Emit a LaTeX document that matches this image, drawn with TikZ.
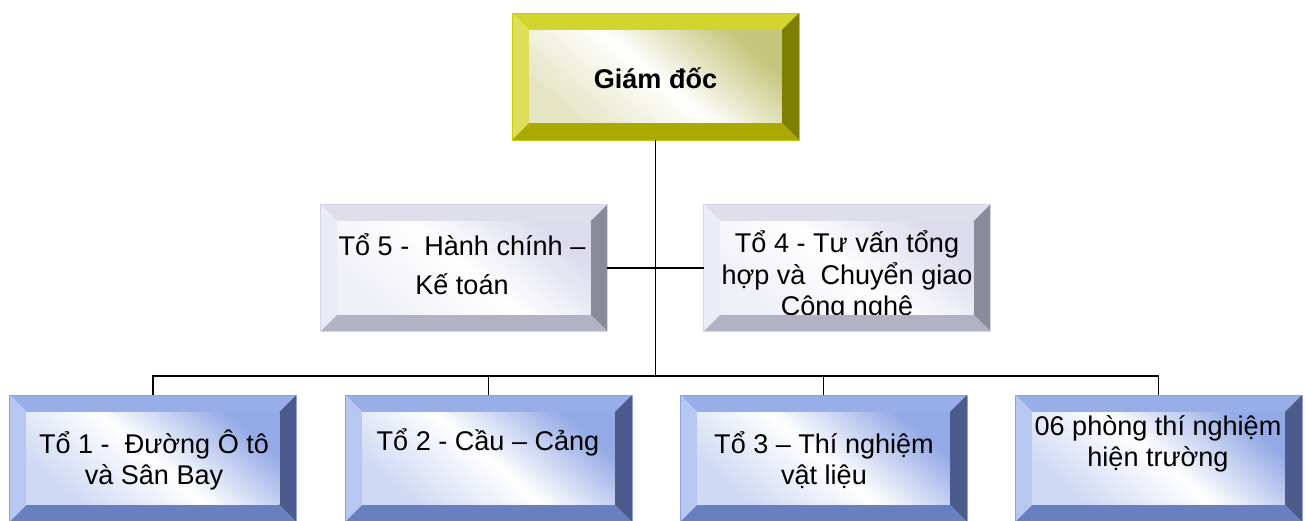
\documentclass[tikz,border=0pt]{standalone}
\usepackage{fontspec}
\setmainfont{Liberation Sans}
\usepackage{tikz}

\definecolor{goldT}{HTML}{D4D42E}
\definecolor{goldL}{HTML}{DEDE5C}
\definecolor{goldR}{HTML}{7E7E00}
\definecolor{goldB}{HTML}{A9A900}
\definecolor{goldF}{HTML}{C6C67E}
\definecolor{goldE}{HTML}{CACA10}
\definecolor{greyT}{HTML}{DFDFEC}
\definecolor{greyL}{HTML}{EBEBF5}
\definecolor{greyR}{HTML}{8A8A9A}
\definecolor{greyB}{HTML}{B2B2C5}
\definecolor{greyF}{HTML}{DCDCEE}
\definecolor{greyE}{HTML}{D6D6E4}
\definecolor{blueT}{HTML}{98AEE8}
\definecolor{blueL}{HTML}{B6C7F2}
\definecolor{blueR}{HTML}{4B5B8C}
\definecolor{blueB}{HTML}{6A7FBF}
\definecolor{blueF}{HTML}{94AAE6}
\definecolor{blueE}{HTML}{8CA2E0}

\def\bw{0.34cm}
\tikzset{
    bevel/.style={
        shape=rectangle, draw=#1E, line width=0.5pt, inner sep=0pt, outer sep=0pt,
        minimum width=5.74cm, minimum height=2.54cm,
        path picture={
            \coordinate (nw) at (path picture bounding box.north west);
            \coordinate (ne) at (path picture bounding box.north east);
            \coordinate (sw) at (path picture bounding box.south west);
            \coordinate (se) at (path picture bounding box.south east);
            \fill[#1T] (nw) -- (ne) -- ([xshift=-\bw,yshift=-\bw]ne) -- ([xshift=\bw,yshift=-\bw]nw) -- cycle;
            \fill[#1L] (nw) -- (sw) -- ([xshift=\bw,yshift=\bw]sw) -- ([xshift=\bw,yshift=-\bw]nw) -- cycle;
            \fill[#1R] (ne) -- (se) -- ([xshift=-\bw,yshift=\bw]se) -- ([xshift=-\bw,yshift=-\bw]ne) -- cycle;
            \fill[#1B] (sw) -- (se) -- ([xshift=-\bw,yshift=\bw]se) -- ([xshift=\bw,yshift=\bw]sw) -- cycle;
            \shade[top color=#1F, bottom color=#1F!45!white, middle color=white, shading angle=-40]
                ([xshift=\bw,yshift=\bw]sw) rectangle ([xshift=-\bw,yshift=-\bw]ne);
        }
    },
    txt/.style={align=center, font=\fontsize{15.4}{18}\selectfont, inner sep=0pt}
}

\begin{document}
\begin{tikzpicture}[x=0.02cm, y=-0.02cm, line width=1.1pt]
    \useasboundingbox (0,0) rectangle (1306,521);

    \node[bevel=gold] (gd) at (655.5,76.5) {};
    \node[bevel=grey] (t5) at (464,268) {};
    \node[bevel=grey] (t4) at (847,268) {};
    \node[bevel=blue] (t1) at (153,458.5) {};
    \node[bevel=blue] (t2) at (488.5,458.5) {};
    \node[bevel=blue] (t3) at (823.5,458.5) {};
    \node[bevel=blue] (t6) at (1158.5,458.5) {};

    \node[txt, font=\bfseries\fontsize{15.4}{18}\selectfont] (gdl) at (655.5,78) {Giám đốc};
    \node[txt, font=\fontsize{15.4}{22.5}\selectfont] (t5l) at (462,264) {Tổ 5 - ~Hành chính –\\Kế toán};
    \begin{scope}
        \clip ([xshift=\bw,yshift=\bw]t4.south west) rectangle ([xshift=-\bw,yshift=-\bw]t4.north east);
        \node[txt] (t4l) at (847,276) {Tổ 4 - Tư vấn tổng\\hợp và ~Chuyển giao\\Công nghệ};
    \end{scope}
    \node[txt] (t1l) at (154,460) {Tổ 1 - ~Đường Ô tô\\và Sân Bay};
    \node[txt] (t2l) at (488,442) {Tổ 2 - Cầu – Cảng};
    \node[txt] (t3l) at (824,460) {Tổ 3 – Thí nghiệm\\vật liệu};
    \node[txt] (t6l) at (1158,444) {06 phòng thí nghiệm\\hiện trường};

    \coordinate (bus) at (655.5,376);
    \draw (gd.south) -- (bus);
    \draw (t5.east) -- (t4.west);
    \draw (t1.north) |- (bus) -| (t6.north);
    \draw (t2.north) -- (t2.north |- bus);
    \draw (t3.north) -- (t3.north |- bus);
\end{tikzpicture}
\end{document}
